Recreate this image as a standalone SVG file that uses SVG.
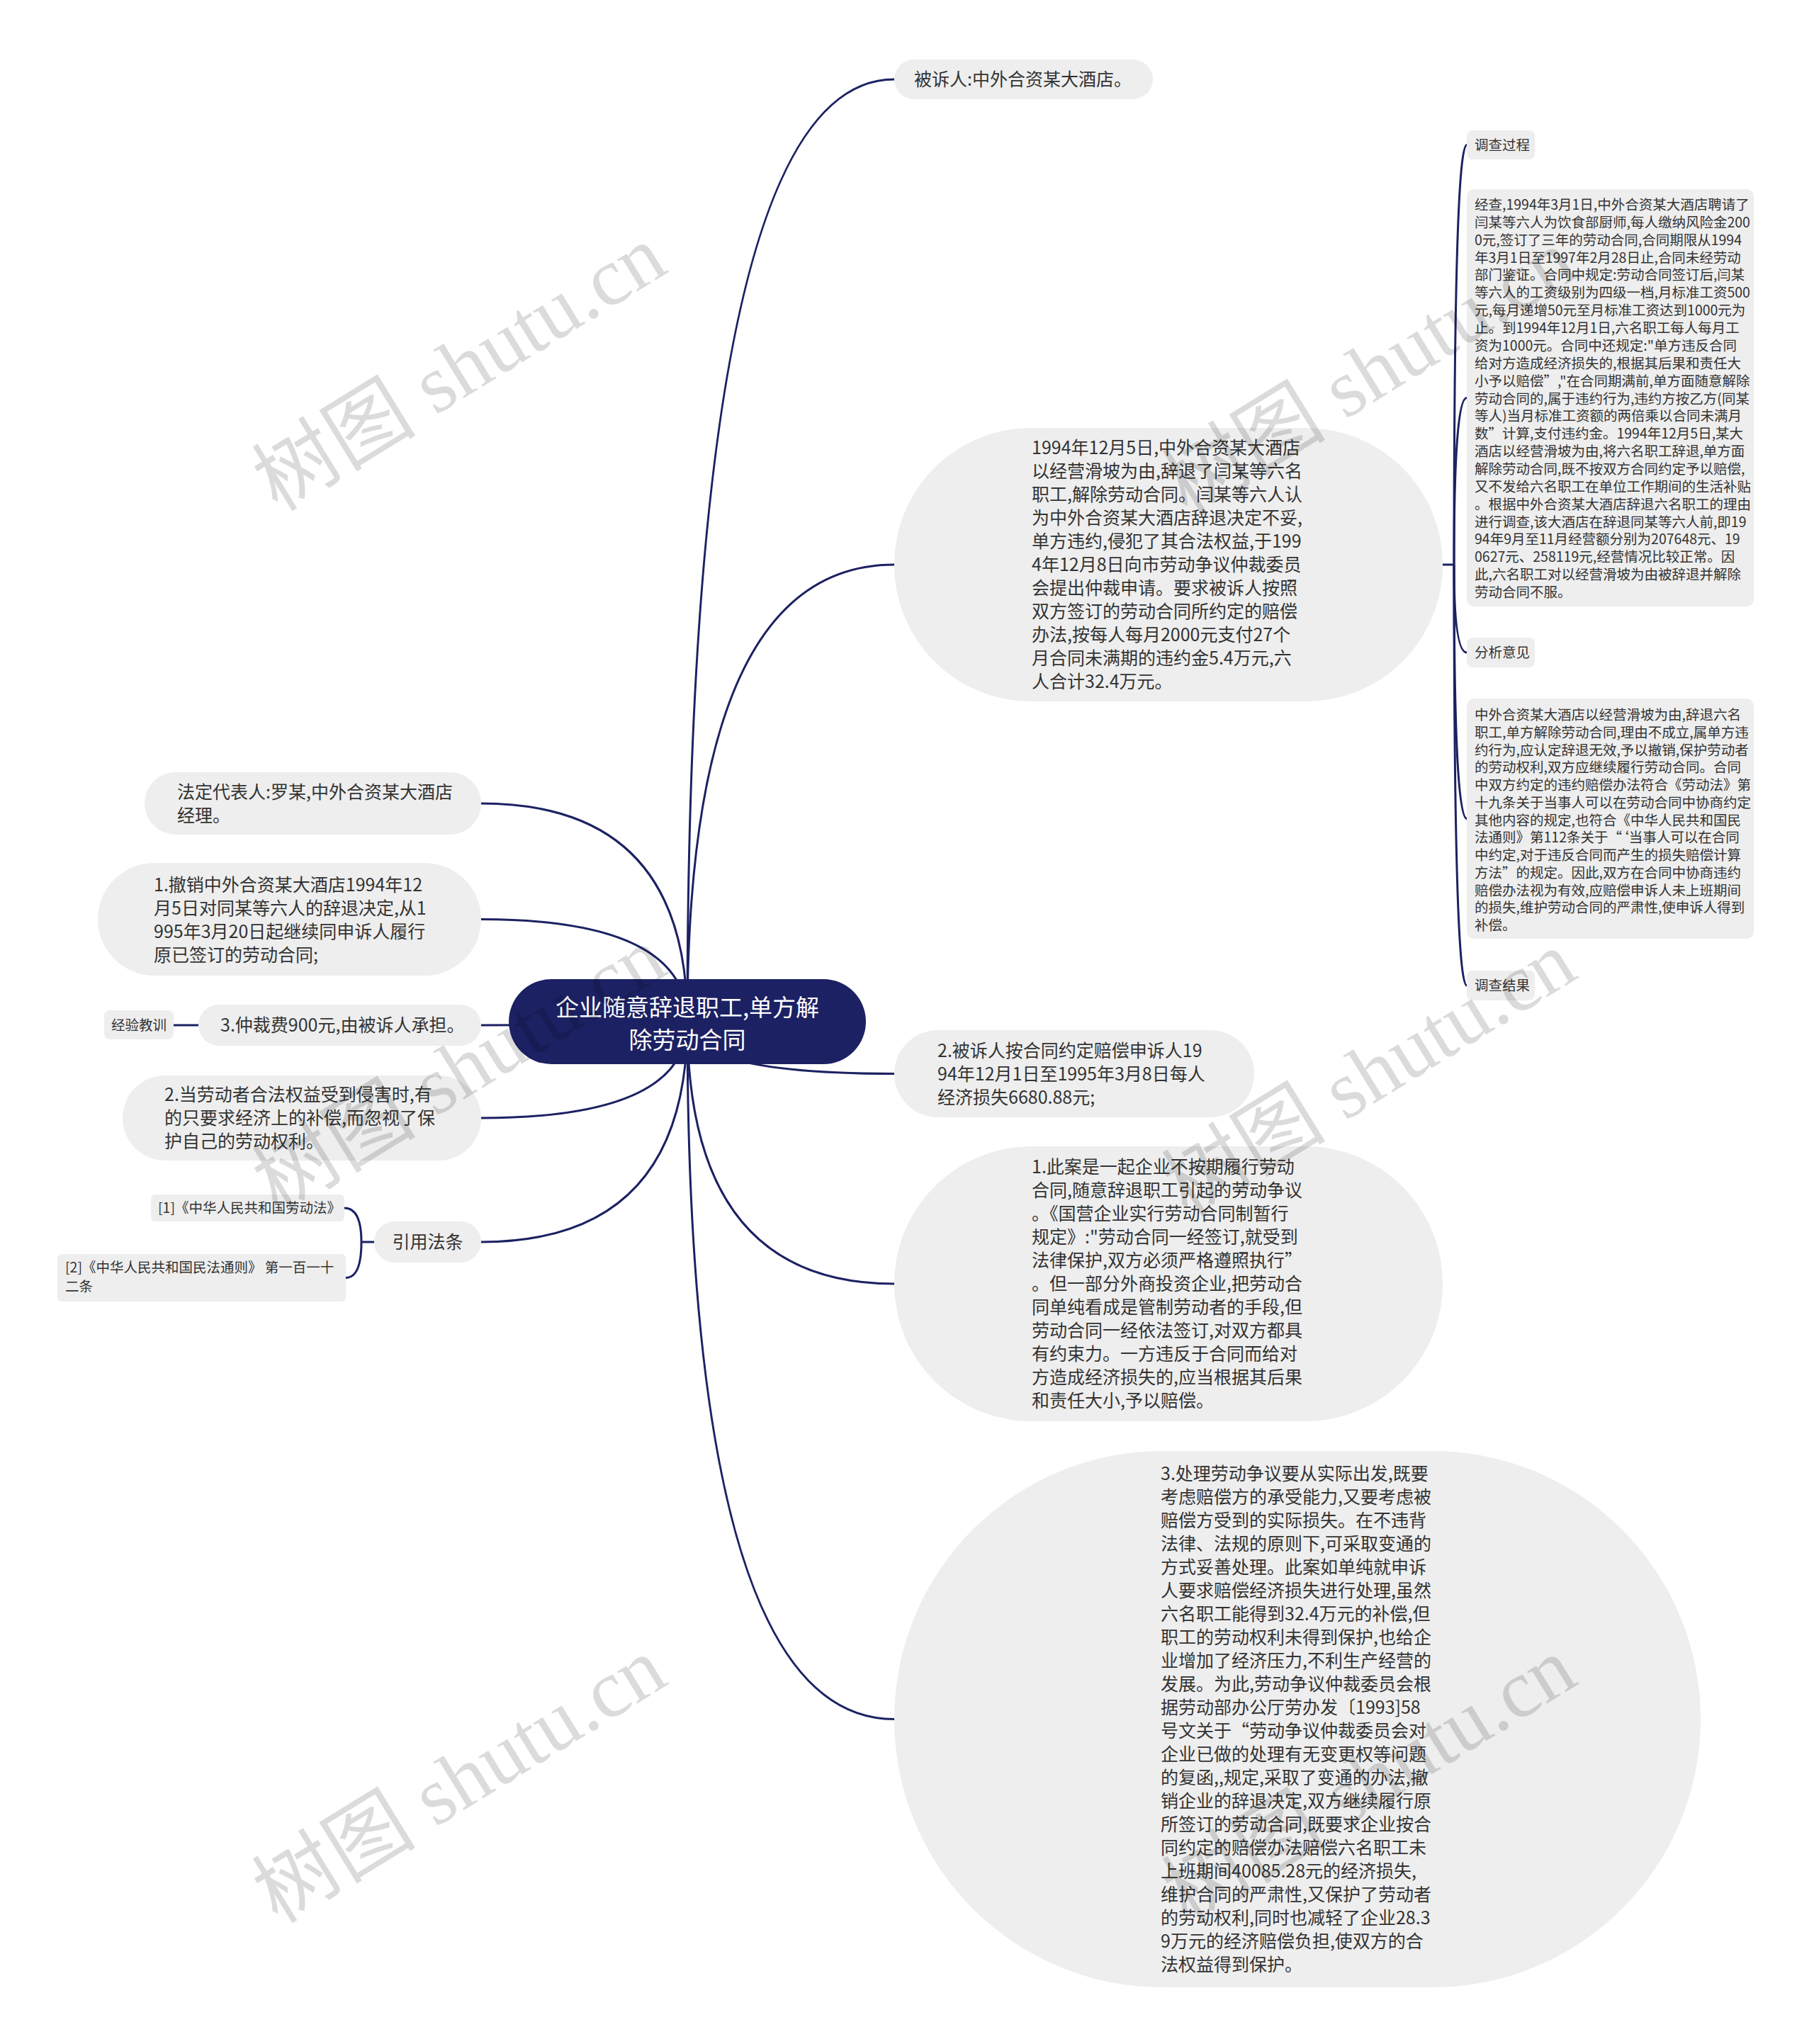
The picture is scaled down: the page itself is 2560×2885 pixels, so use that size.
<svg xmlns="http://www.w3.org/2000/svg" width="2560" height="2885" viewBox="0 0 2560 2885">
<style>
.n{fill:#eeeeee}
.c{fill:none;stroke:#1c2163;stroke-width:3}
text{font-family:"Noto Sans CJK SC","Noto Sans",sans-serif;fill:#333333}
.f25{font-size:25px}
.f19{font-size:19.5px}
.ctr{font-size:33px;fill:#ffffff;text-anchor:middle}
.wm{font-family:"Liberation Serif","Noto Sans CJK SC",serif;font-size:116px;fill:#000000;fill-opacity:0.14;text-anchor:middle}
</style>
<rect width="2560" height="2885" fill="#ffffff"/>
<g id="connectors">
<path class="c" d="M970 1442 Q970 112 1262 112"/>
<path class="c" d="M970 1442 Q970 797 1262 797"/>
<path class="c" d="M970 1442 Q970 1515.5 1262 1515.5"/>
<path class="c" d="M970 1442 Q970 1812 1262 1812"/>
<path class="c" d="M970 1442 Q970 2426.5 1262 2426.5"/>
<path class="c" d="M970 1442 Q970 1134 679 1134"/>
<path class="c" d="M970 1442 Q970 1297.5 679 1297.5"/>
<path class="c" d="M970 1442 Q970 1447 679 1447"/>
<path class="c" d="M970 1442 Q970 1578 679 1578"/>
<path class="c" d="M970 1442 Q970 1753 679 1753"/>
<path class="c" d="M280 1447 L245 1447"/>
<path class="c" d="M528 1753 L510 1753"/>
<path class="c" d="M510 1753 Q510 1705 486 1705"/>
<path class="c" d="M510 1753 Q510 1803.5 488 1803.5"/>
<path class="c" d="M2036 797 L2052 797"/>
<path class="c" d="M2052 797 Q2052 204.5 2070 204.5"/>
<path class="c" d="M2052 797 Q2052 561.5 2070 561.5"/>
<path class="c" d="M2052 797 Q2052 921 2070 921"/>
<path class="c" d="M2052 797 Q2052 1155.5 2070 1155.5"/>
<path class="c" d="M2052 797 Q2052 1391 2070 1391"/>
</g>
<g id="center">
<rect x="718" y="1382" width="504" height="120" rx="60" fill="#1c2163"/>
<text class="ctr"><tspan x="970" y="1433.5">企业随意辞退职工,单方解</tspan><tspan x="970" y="1479.5">除劳动合同</tspan></text>
</g>
<g id="n-defendant">
<rect class="n" x="1262" y="84" width="365" height="56" rx="28"/>
<text class="f25" x="1290" y="121">被诉人:中外合资某大酒店。</text>
</g>
<g id="n-claim">
<rect class="n" x="1262" y="604" width="774" height="386" rx="193"/>
<text class="f25">
<tspan x="1456" y="641">1994年12月5日,中外合资某大酒店</tspan>
<tspan x="1456" y="674">以经营滑坡为由,辞退了闫某等六名</tspan>
<tspan x="1456" y="707">职工,解除劳动合同。闫某等六人认</tspan>
<tspan x="1456" y="740">为中外合资某大酒店辞退决定不妥,</tspan>
<tspan x="1456" y="773">单方违约,侵犯了其合法权益,于199</tspan>
<tspan x="1456" y="806">4年12月8日向市劳动争议仲裁委员</tspan>
<tspan x="1456" y="839">会提出仲裁申请。要求被诉人按照</tspan>
<tspan x="1456" y="872">双方签订的劳动合同所约定的赔偿</tspan>
<tspan x="1456" y="905">办法,按每人每月2000元支付27个</tspan>
<tspan x="1456" y="938">月合同未满期的违约金5.4万元,六</tspan>
<tspan x="1456" y="971">人合计32.4万元。</tspan>
</text>
</g>
<g id="n-survey-label">
<rect class="n" x="2070" y="184" width="96" height="41" rx="8"/>
<text class="f19" x="2081" y="211.5">调查过程</text>
</g>
<g id="n-survey">
<rect class="n" x="2070" y="267" width="405" height="589" rx="10"/>
<text class="f19">
<tspan x="2081" y="296">经查,1994年3月1日,中外合资某大酒店聘请了</tspan>
<tspan x="2081" y="320.9">闫某等六人为饮食部厨师,每人缴纳风险金200</tspan>
<tspan x="2081" y="345.7">0元,签订了三年的劳动合同,合同期限从1994</tspan>
<tspan x="2081" y="370.6">年3月1日至1997年2月28日止,合同未经劳动</tspan>
<tspan x="2081" y="395.4">部门鉴证。合同中规定:劳动合同签订后,闫某</tspan>
<tspan x="2081" y="420.3">等六人的工资级别为四级一档,月标准工资500</tspan>
<tspan x="2081" y="445.2">元,每月递增50元至月标准工资达到1000元为</tspan>
<tspan x="2081" y="470">止。到1994年12月1日,六名职工每人每月工</tspan>
<tspan x="2081" y="494.9">资为1000元。合同中还规定:"单方违反合同</tspan>
<tspan x="2081" y="519.7">给对方造成经济损失的,根据其后果和责任大</tspan>
<tspan x="2081" y="544.6">小予以赔偿”,"在合同期满前,单方面随意解除</tspan>
<tspan x="2081" y="569.5">劳动合同的,属于违约行为,违约方按乙方(同某</tspan>
<tspan x="2081" y="594.3">等人)当月标准工资额的两倍乘以合同未满月</tspan>
<tspan x="2081" y="619.2">数”计算,支付违约金。1994年12月5日,某大</tspan>
<tspan x="2081" y="644">酒店以经营滑坡为由,将六名职工辞退,单方面</tspan>
<tspan x="2081" y="668.9">解除劳动合同,既不按双方合同约定予以赔偿,</tspan>
<tspan x="2081" y="693.8">又不发给六名职工在单位工作期间的生活补贴</tspan>
<tspan x="2081" y="718.6">。根据中外合资某大酒店辞退六名职工的理由</tspan>
<tspan x="2081" y="743.5">进行调查,该大酒店在辞退同某等六人前,即19</tspan>
<tspan x="2081" y="768.3">94年9月至11月经营额分别为207648元、19</tspan>
<tspan x="2081" y="793.2">0627元、258119元,经营情况比较正常。因</tspan>
<tspan x="2081" y="818.1">此,六名职工对以经营滑坡为由被辞退并解除</tspan>
<tspan x="2081" y="842.9">劳动合同不服。</tspan>
</text>
</g>
<g id="n-analysis-label">
<rect class="n" x="2070" y="900" width="96" height="42" rx="8"/>
<text class="f19" x="2081" y="928">分析意见</text>
</g>
<g id="n-analysis">
<rect class="n" x="2070" y="986" width="405" height="339" rx="10"/>
<text class="f19">
<tspan x="2081" y="1016">中外合资某大酒店以经营滑坡为由,辞退六名</tspan>
<tspan x="2081" y="1040.75">职工,单方解除劳动合同,理由不成立,属单方违</tspan>
<tspan x="2081" y="1065.5">约行为,应认定辞退无效,予以撤销,保护劳动者</tspan>
<tspan x="2081" y="1090.25">的劳动权利,双方应继续履行劳动合同。合同</tspan>
<tspan x="2081" y="1115">中双方约定的违约赔偿办法符合《劳动法》第</tspan>
<tspan x="2081" y="1139.75">十九条关于当事人可以在劳动合同中协商约定</tspan>
<tspan x="2081" y="1164.5">其他内容的规定,也符合《中华人民共和国民</tspan>
<tspan x="2081" y="1189.25">法通则》第112条关于“‘当事人可以在合同</tspan>
<tspan x="2081" y="1214">中约定,对于违反合同而产生的损失赔偿计算</tspan>
<tspan x="2081" y="1238.75">方法”的规定。因此,双方在合同中协商违约</tspan>
<tspan x="2081" y="1263.5">赔偿办法视为有效,应赔偿申诉人未上班期间</tspan>
<tspan x="2081" y="1288.25">的损失,维护劳动合同的严肃性,使申诉人得到</tspan>
<tspan x="2081" y="1313">补偿。</tspan>
</text>
</g>
<g id="n-result-label">
<rect class="n" x="2070" y="1370" width="96" height="42" rx="8"/>
<text class="f19" x="2081" y="1398">调查结果</text>
</g>
<g id="n-rep">
<rect class="n" x="204" y="1090" width="475" height="88" rx="44"/>
<text class="f25"><tspan x="250" y="1127">法定代表人:罗某,中外合资某大酒店</tspan><tspan x="250" y="1160">经理。</tspan></text>
</g>
<g id="n-ruling1">
<rect class="n" x="138" y="1218" width="541" height="159" rx="79.5"/>
<text class="f25">
<tspan x="217" y="1257.5">1.撤销中外合资某大酒店1994年12</tspan>
<tspan x="217" y="1290.5">月5日对同某等六人的辞退决定,从1</tspan>
<tspan x="217" y="1323.5">995年3月20日起继续同申诉人履行</tspan>
<tspan x="217" y="1356.5">原已签订的劳动合同;</tspan>
</text>
</g>
<g id="n-ruling3">
<rect class="n" x="280" y="1418" width="399" height="58" rx="29"/>
<text class="f25" x="311" y="1456">3.仲裁费900元,由被诉人承担。</text>
</g>
<g id="n-lesson-label">
<rect class="n" x="147" y="1426" width="98" height="41" rx="8"/>
<text class="f19" x="196" y="1453.5" text-anchor="middle">经验教训</text>
</g>
<g id="n-lesson2">
<rect class="n" x="173" y="1518" width="506" height="120" rx="60"/>
<text class="f25">
<tspan x="232" y="1554">2.当劳动者合法权益受到侵害时,有</tspan>
<tspan x="232" y="1587">的只要求经济上的补偿,而忽视了保</tspan>
<tspan x="232" y="1620">护自己的劳动权利。</tspan>
</text>
</g>
<g id="n-law">
<rect class="n" x="528" y="1724" width="151" height="58" rx="29"/>
<text class="f25" x="603.5" y="1762" text-anchor="middle">引用法条</text>
</g>
<g id="n-law1">
<rect class="n" x="213" y="1686" width="273" height="38" rx="6"/>
<text class="f19" x="223" y="1712">[1]《中华人民共和国劳动法》</text>
</g>
<g id="n-law2">
<rect class="n" x="81" y="1770" width="407" height="67" rx="6"/>
<text class="f19"><tspan x="92" y="1796">[2]《中华人民共和国民法通则》 第一百一十</tspan><tspan x="92" y="1823">二条</tspan></text>
</g>
<g id="n-ruling2">
<rect class="n" x="1262" y="1454" width="508" height="123" rx="61.5"/>
<text class="f25">
<tspan x="1323" y="1492">2.被诉人按合同约定赔偿申诉人19</tspan>
<tspan x="1323" y="1525">94年12月1日至1995年3月8日每人</tspan>
<tspan x="1323" y="1558">经济损失6680.88元;</tspan>
</text>
</g>
<g id="n-lesson1">
<rect class="n" x="1262" y="1618" width="774" height="388" rx="194"/>
<text class="f25">
<tspan x="1456" y="1656">1.此案是一起企业不按期履行劳动</tspan>
<tspan x="1456" y="1689">合同,随意辞退职工引起的劳动争议</tspan>
<tspan x="1456" y="1722">。《国营企业实行劳动合同制暂行</tspan>
<tspan x="1456" y="1755">规定》:"劳动合同一经签订,就受到</tspan>
<tspan x="1456" y="1788">法律保护,双方必须严格遵照执行”</tspan>
<tspan x="1456" y="1821">。但一部分外商投资企业,把劳动合</tspan>
<tspan x="1456" y="1854">同单纯看成是管制劳动者的手段,但</tspan>
<tspan x="1456" y="1887">劳动合同一经依法签订,对双方都具</tspan>
<tspan x="1456" y="1920">有约束力。一方违反于合同而给对</tspan>
<tspan x="1456" y="1953">方造成经济损失的,应当根据其后果</tspan>
<tspan x="1456" y="1986">和责任大小,予以赔偿。</tspan>
</text>
</g>
<g id="n-lesson3">
<rect class="n" x="1262" y="2048" width="1138" height="757" rx="378.5"/>
<text class="f25">
<tspan x="1638" y="2089">3.处理劳动争议要从实际出发,既要</tspan>
<tspan x="1638" y="2122">考虑赔偿方的承受能力,又要考虑被</tspan>
<tspan x="1638" y="2155">赔偿方受到的实际损失。在不违背</tspan>
<tspan x="1638" y="2188">法律、法规的原则下,可采取变通的</tspan>
<tspan x="1638" y="2221">方式妥善处理。此案如单纯就申诉</tspan>
<tspan x="1638" y="2254">人要求赔偿经济损失进行处理,虽然</tspan>
<tspan x="1638" y="2287">六名职工能得到32.4万元的补偿,但</tspan>
<tspan x="1638" y="2320">职工的劳动权利未得到保护,也给企</tspan>
<tspan x="1638" y="2353">业增加了经济压力,不利生产经营的</tspan>
<tspan x="1638" y="2386">发展。为此,劳动争议仲裁委员会根</tspan>
<tspan x="1638" y="2419">据劳动部办公厅劳办发〔1993]58</tspan>
<tspan x="1638" y="2452">号文关于“劳动争议仲裁委员会对</tspan>
<tspan x="1638" y="2485">企业已做的处理有无变更权等问题</tspan>
<tspan x="1638" y="2518">的复函,,规定,采取了变通的办法,撤</tspan>
<tspan x="1638" y="2551">销企业的辞退决定,双方继续履行原</tspan>
<tspan x="1638" y="2584">所签订的劳动合同,既要求企业按合</tspan>
<tspan x="1638" y="2617">同约定的赔偿办法赔偿六名职工未</tspan>
<tspan x="1638" y="2650">上班期间40085.28元的经济损失,</tspan>
<tspan x="1638" y="2683">维护合同的严肃性,又保护了劳动者</tspan>
<tspan x="1638" y="2716">的劳动权利,同时也减轻了企业28.3</tspan>
<tspan x="1638" y="2749">9万元的经济赔偿负担,使双方的合</tspan>
<tspan x="1638" y="2782">法权益得到保护。</tspan>
</text>
</g>
<g id="watermarks">
<text class="wm" transform="translate(648,519) rotate(-31.6)" y="40">树图 shutu.cn</text>
<text class="wm" transform="translate(1932,525) rotate(-31.6)" y="40">树图 shutu.cn</text>
<text class="wm" transform="translate(648,1509) rotate(-31.6)" y="40">树图 shutu.cn</text>
<text class="wm" transform="translate(1932,1515) rotate(-31.6)" y="40">树图 shutu.cn</text>
<text class="wm" transform="translate(648,2512) rotate(-31.6)" y="40">树图 shutu.cn</text>
<text class="wm" transform="translate(1932,2512) rotate(-31.6)" y="40">树图 shutu.cn</text>
</g>
</svg>
